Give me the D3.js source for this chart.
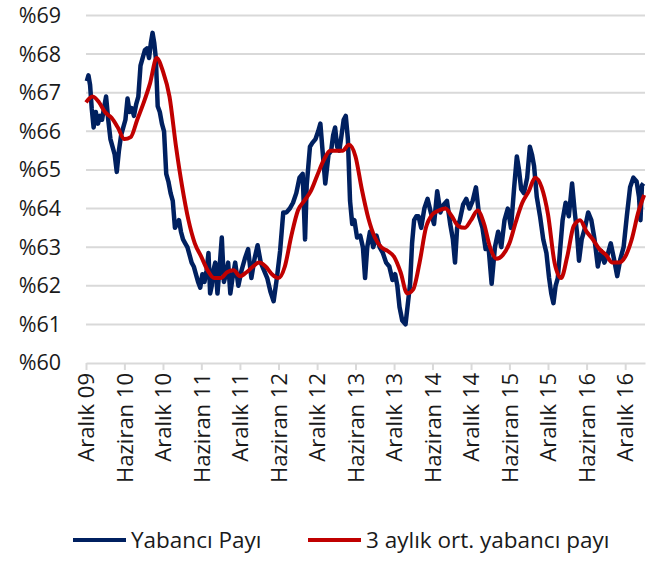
<!DOCTYPE html>
<html>
<head>
<meta charset="utf-8">
<script src="https://cdn.jsdelivr.net/npm/d3@7"></script>
<style>
    body { margin: 0; background: #fff; }
    #chart { width: 654px; height: 561px; }
    text { font-family: "Open Sans", "Noto Sans", sans-serif; fill: #1a1a1a; }
</style>
</head>
<body>
<div id="chart"></div>
<script>
// Haftalık yabancı payı, Aralık 2009'dan itibaren her ay için okunan değerler
const blueByMonth = [
    [67.3, 67.45, 67.2, 66.6], [66.1, 66.5, 66.2], [66.4, 66.3, 66.6], [66.9, 66.3, 65.8],
    [65.6, 65.4, 64.95], [65.5, 65.9, 66.1], [66.3, 66.85, 66.5], [66.6, 66.4, 66.7],
    [66.9, 67.7, 67.9], [68.1, 68.15, 67.9], [68.3, 68.55, 68.3, 67.9], [66.65, 66.5, 66.2],
    [66.0, 64.9, 64.7], [64.4, 64.2, 63.5], [63.6, 63.7, 63.4], [63.2, 63.1, 63.0],
    [62.8, 62.6, 62.5], [62.3, 62.1, 61.95], [62.3, 62.1, 62.4], [62.85, 61.8, 62.0, 62.4],
    [62.6, 61.8, 62.5], [63.25, 62.1, 62.3], [62.6, 61.8, 62.2], [62.6, 62.0],
    [62.4, 62.7], [62.95, 62.2], [62.7, 63.05], [62.6, 62.4],
    [62.2, 61.85], [61.6, 62.2], [62.9, 63.9], [63.9, 64.0],
    [64.15, 64.4], [64.8, 64.9], [63.2, 64.6, 65.1, 65.6], [65.7, 65.8],
    [66.0, 66.2, 65.5], [64.65, 65.4], [65.5, 65.9, 66.1], [65.6, 65.5, 65.9],
    [66.3, 66.4, 65.8], [64.2, 63.6, 63.7], [63.25, 63.3], [63.0, 62.2, 63.0],
    [63.4, 63.0], [63.3, 63.0], [62.85, 62.6], [62.5, 62.15],
    [62.3, 62.0, 61.45], [61.1, 61.0], [61.6, 62.05, 63.1], [63.7, 63.8, 63.8],
    [63.5, 64.0], [64.25, 63.9], [63.6, 64.45], [63.9, 64.1],
    [64.2, 63.6], [63.2, 62.6, 63.5], [63.7, 64.1], [64.25, 64.0],
    [64.2, 64.55], [63.8, 63.5], [62.95, 63.0], [62.05, 63.0],
    [63.4, 63.0], [63.7, 64.0], [63.5, 64.55], [65.35, 65.0, 64.5],
    [64.4, 64.8], [65.6, 65.4, 65.1], [64.3, 63.8], [63.2, 62.85],
    [62.2, 61.8, 61.55], [62.0, 62.2, 62.9], [63.7, 64.15], [63.8, 64.65],
    [63.9, 63.4, 62.65], [63.2, 63.5], [63.9, 63.7], [63.2, 62.5],
    [62.9, 62.6], [62.8, 63.1], [62.7, 62.25], [62.7, 63.0],
    [63.8, 64.55], [64.8, 64.7], [64.3, 63.7, 64.6, 64.65]
];

// 3 aylık ortalama, her ayın başındaki değer (Aralık 2009 - Mart 2017)
const redMonthly = [
    66.75, 66.9, 66.75, 66.5, 66.35, 66.1, 65.8, 65.85, 66.3, 66.75, 67.25, 67.9,
    67.55, 66.9, 65.6, 64.6, 63.7, 63.1, 62.75, 62.4, 62.2, 62.2, 62.35, 62.4,
    62.25, 62.35, 62.5, 62.6, 62.5, 62.3, 62.2, 62.5, 63.3, 63.95, 64.2, 64.45,
    64.85, 65.25, 65.5, 65.5, 65.5, 65.65, 65.35, 64.5, 63.75, 63.25, 63.0, 62.9,
    62.75, 62.35, 61.8, 61.9, 62.6, 63.5, 63.85, 63.95, 64.0, 63.8, 63.55, 63.5,
    63.7, 63.95, 63.6, 63.0, 62.7, 62.8, 63.1, 63.65, 64.15, 64.45, 64.8, 64.55,
    63.85, 62.6, 62.2, 62.75, 63.55, 63.7, 63.4, 63.2, 62.95, 62.8, 62.6, 62.6,
    62.75, 63.2, 63.9, 64.35
];

const tickLabels = [
    "Aralık 09", "Haziran 10", "Aralık 10", "Haziran 11", "Aralık 11",
    "Haziran 12", "Aralık 12", "Haziran 13", "Aralık 13", "Haziran 14",
    "Aralık 14", "Haziran 15", "Aralık 15", "Haziran 16", "Aralık 16"
];
const yTicks = [60, 61, 62, 63, 64, 65, 66, 67, 68, 69];
const seriesNames = ["Yabancı Payı", "3 aylık ort. yabancı payı"];
const colors = ["#002060", "#C00000"];

const startDate = new Date(2009, 11, 1);
const endDate = new Date(2017, 2, 5);

const blueData = [];
blueByMonth.forEach((vals, m) => {
    const m0 = d3.timeMonth.offset(startDate, m);
    const m1 = d3.timeMonth.offset(startDate, m + 1);
    vals.forEach((v, i) => {
        const t = new Date(+m0 + (i + 0.5) / vals.length * (m1 - m0));
        blueData.push({ date: t, value: v });
    });
});
const redData = redMonthly.map((v, m) => ({ date: d3.timeMonth.offset(startDate, m), value: v }));

const W = 654, H = 561;
const plotLeft = 86, plotRight = 645, plotTop = 15.5, plotBottom = 363;

const svg = d3.select("#chart").append("svg")
    .attr("width", W)
    .attr("height", H);

const x = d3.scaleTime().domain([startDate, endDate]).range([plotLeft, plotRight]);
const y = d3.scaleLinear().domain([60, 69]).range([plotBottom, plotTop]);

// gridlines
svg.append("g")
    .selectAll("line")
    .data(yTicks.filter(d => d > 60))
    .enter()
    .append("line")
    .attr("x1", plotLeft)
    .attr("x2", plotRight)
    .attr("y1", d => y(d))
    .attr("y2", d => y(d))
    .attr("stroke", "#d9d9d9")
    .attr("stroke-width", 2);

// y labels
const yAxis = svg.append("g")
    .attr("transform", `translate(${plotLeft - 25},0)`)
    .call(d3.axisLeft(y).tickValues(yTicks).tickFormat(d => "%" + d).tickSize(0));
yAxis.select(".domain").remove();
yAxis.selectAll("text")
    .attr("x", 0)
    .style("font-size", "21.5px")
    .style("font-family", "\"Open Sans\", sans-serif")
    .attr("fill", "#1a1a1a");

// x axis
const tickDates = tickLabels.map((_, i) => d3.timeMonth.offset(startDate, 6 * i));
const xAxis = svg.append("g")
    .attr("transform", `translate(0,${plotBottom})`)
    .call(d3.axisBottom(x).tickValues(tickDates).tickFormat((d, i) => tickLabels[i]).tickSize(7).tickSizeOuter(0));
xAxis.select(".domain").attr("stroke", "#d9d9d9").attr("stroke-width", 2);
xAxis.selectAll(".tick line").attr("stroke", "#d9d9d9").attr("stroke-width", 2);
xAxis.selectAll("text")
    .attr("transform", "rotate(-90)")
    .attr("text-anchor", "end")
    .attr("x", -10)
    .attr("y", 0)
    .attr("dy", "0.35em")
    .style("font-size", "22px")
    .style("font-family", "\"Open Sans\", sans-serif")
    .attr("fill", "#1a1a1a");

const line = d3.line()
    .x(d => x(d.date))
    .y(d => y(d.value));

svg.append("path")
    .datum(blueData)
    .attr("fill", "none")
    .attr("stroke", colors[0])
    .attr("stroke-width", 4.5)
    .attr("stroke-linejoin", "round")
    .attr("d", line);

svg.append("path")
    .datum(redData)
    .attr("fill", "none")
    .attr("stroke", colors[1])
    .attr("stroke-width", 4)
    .attr("stroke-linejoin", "round")
    .attr("d", line.curve(d3.curveMonotoneX));

// legend
const legendPos = [73, 308];
const legend = svg.append("g");
seriesNames.forEach((name, i) => {
    const g = legend.append("g").attr("transform", `translate(${legendPos[i]},540)`);
    g.append("line")
        .attr("x1", 0).attr("x2", 53)
        .attr("stroke", colors[i])
        .attr("stroke-width", 4);
    g.append("text")
        .attr("x", 58)
        .attr("dy", "0.35em")
        .style("font-size", "22.5px")
        .text(name);
});
</script>
</body>
</html>
